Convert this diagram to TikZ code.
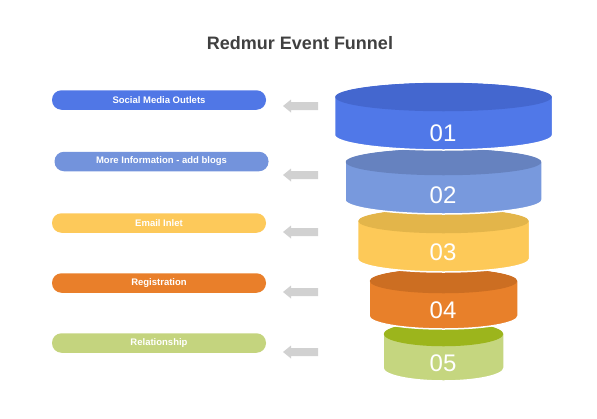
\documentclass[tikz,border=0pt]{standalone}
\usepackage{fontspec}
\setmainfont{Liberation Sans}
\begin{document}
\begin{tikzpicture}[x=1pt,y=-1pt,
  pill/.style={rounded corners=9.5pt,minimum width=214pt,minimum height=19.5pt,inner sep=0pt,text=white,font=\fontsize{9.5}{11}\selectfont\bfseries},
  num/.style={text=white,font=\fontsize{24}{26}\selectfont},
  garrow/.style={fill=black!18}]
\useasboundingbox (0,0) rectangle (597,418);
\definecolor{c1b}{HTML}{5078E8}\definecolor{c1t}{HTML}{4467CF}
\definecolor{c2b}{HTML}{7899DD}\definecolor{c2t}{HTML}{6682BF}
\definecolor{c3b}{HTML}{FDC958}\definecolor{c3t}{HTML}{E3B54A}
\definecolor{c4b}{HTML}{E8802A}\definecolor{c4t}{HTML}{CC6E22}
\definecolor{c5b}{HTML}{C5D67F}\definecolor{c5t}{HTML}{9CB51C}
\definecolor{p1}{HTML}{5077E6}\definecolor{p2}{HTML}{7393DC}
\definecolor{p3}{HTML}{FDC95A}\definecolor{p4}{HTML}{E97F2A}
\definecolor{p5}{HTML}{C4D47E}
\node[font=\fontsize{18}{20}\selectfont\bfseries,text=black!75] (title) at (300,43) {Redmur Event Funnel};
% cylinders: cx rx ty by ry
\newcommand\mycyl[7]{%
  \filldraw[fill=#6,draw=white,line width=1.5pt] (#1-#2,#3) -- (#1-#2,#4) arc[start angle=180,end angle=0,x radius=#2,y radius=#5] -- (#1+#2,#3) arc[start angle=0,end angle=-180,x radius=#2,y radius=#5] -- cycle;
  \fill[#7] (#1,#3) ellipse[x radius=#2-0.75,y radius=#5-0.75];}
\mycyl{443.5}{60.5}{334}{368}{13}{c5b}{c5t}
\mycyl{443.5}{74.5}{281}{316}{13}{c4b}{c4t}
\mycyl{443.5}{86}{221}{259}{13}{c3b}{c3t}
\mycyl{443.5}{98.5}{162}{200}{14}{c2b}{c2t}
\mycyl{443.5}{109}{97}{135}{15}{c1b}{c1t}
\node[num] (n1) at (443,133) {01};
\node[num] (n2) at (443,195) {02};
\node[num] (n3) at (443,252) {03};
\node[num] (n4) at (443,310) {04};
\node[num] (n5) at (443,363) {05};
% pills
\node[pill,fill=p1] (l1) at (159,100) {Social Media Outlets};
\node[pill,fill=p2] (l2) at (161.5,161.5) {More Information - add blogs};
\node[pill,fill=p3] (l3) at (159,223) {Email Inlet};
\node[pill,fill=p4] (l4) at (159,283) {Registration};
\node[pill,fill=p5] (l5) at (159,343) {Relationship};
% gray arrows
\foreach \yy in {106,175,232,292,352}{
  \fill[garrow] (283,\yy) -- (291,\yy-6.5) -- (291,\yy-4) -- (318,\yy-4) -- (318,\yy+4) -- (291,\yy+4) -- (291,\yy+6.5) -- cycle;}
\end{tikzpicture}
\end{document}
